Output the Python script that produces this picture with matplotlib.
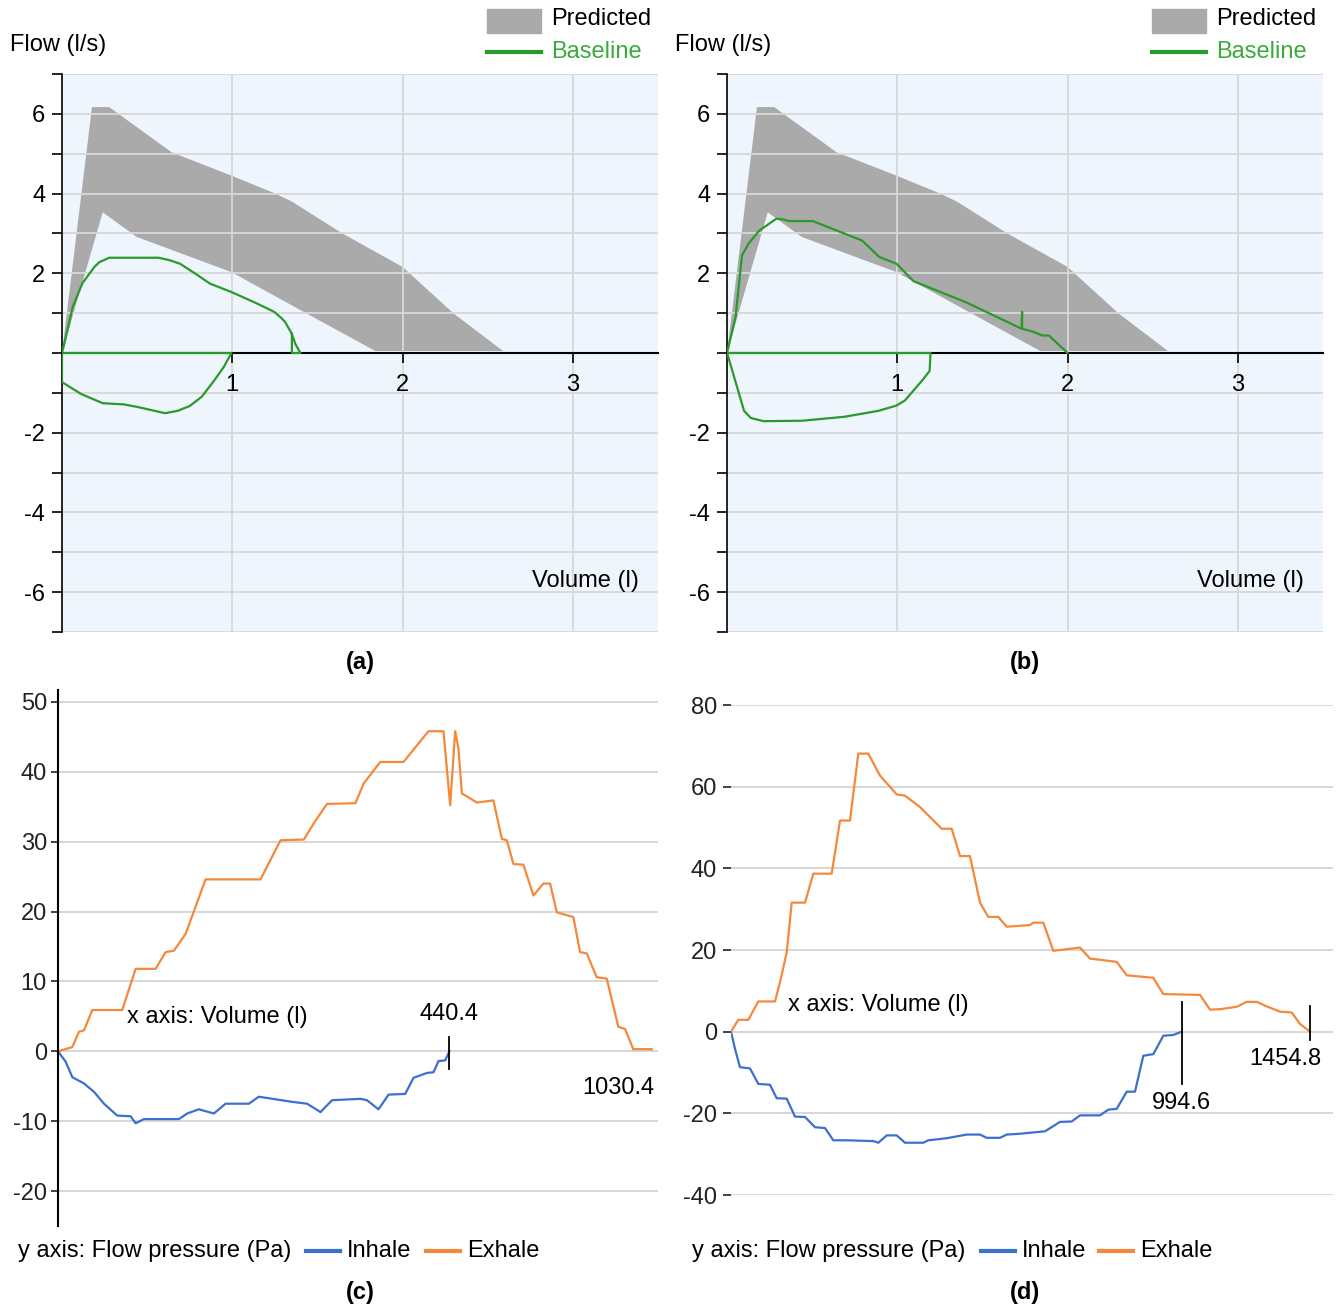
# flow-volume loops (a, b) and flow pressure traces (c, d)
import matplotlib.pyplot as plt
from matplotlib.lines import Line2D
from matplotlib.patches import Rectangle
from matplotlib.ticker import FuncFormatter

plt.rcParams.update({
    'font.family': ['Liberation Sans', 'DejaVu Sans'],
    'font.size': 17,
    'axes.unicode_minus': False,
})

W, H = 1339, 1309
GREEN = '#2a9a2a'
GREEN_TXT = '#3aaa3a'
GRAY = '#aaaaaa'
BLUE = '#3b6fd0'
ORANGE = '#f5883a'

# predicted band (same in a and b)
BAND_UP_X = [0, 0.176, 0.277, 0.642, 0.995, 1.247, 1.35, 1.65, 2.0, 2.3, 2.59]
BAND_UP_Y = [0, 6.17, 6.17, 5.04, 4.45, 4.01, 3.8, 2.99, 2.16, 0.99, 0.05]
BAND_LO_X = [0, 0.239, 0.44, 0.995, 1.42, 1.84]
BAND_LO_Y = [0, 3.53, 2.91, 2.03, 1.03, 0.05]

# baseline loop, panel a
A_EX_X = [0, 0.02, 0.063, 0.12, 0.19, 0.22, 0.277, 0.567, 0.63, 0.693, 0.78, 0.869,
          0.995, 1.146, 1.247, 1.29, 1.31, 1.35, 1.37, 1.40, 1.35, 1.35]
A_EX_Y = [0, 0.35, 1.16, 1.75, 2.16, 2.28, 2.39, 2.39, 2.33, 2.24, 2.0, 1.74,
          1.53, 1.24, 1.03, 0.87, 0.78, 0.48, 0.23, 0, 0, 0.48]
A_IN_X = [0, 0, 0.113, 0.239, 0.365, 0.45, 0.605, 0.68, 0.75, 0.82, 0.894, 0.95, 0.995, 0]
A_IN_Y = [0, -0.73, -1.03, -1.26, -1.29, -1.36, -1.51, -1.45, -1.33, -1.10, -0.69, -0.35, 0, 0]

# baseline loop, panel b
B_EX_X = [0, 0.05, 0.088, 0.126, 0.189, 0.29, 0.33, 0.365, 0.504, 0.794, 0.894, 0.995,
          1.096, 1.4, 1.73, 1.733, 1.733, 1.80, 1.85, 1.89, 2.0]
B_EX_Y = [0, 0.9, 2.45, 2.74, 3.07, 3.37, 3.35, 3.31, 3.31, 2.82, 2.41, 2.24,
          1.80, 1.28, 0.61, 1.03, 0.61, 0.53, 0.44, 0.44, 0.0]
B_IN_X = [0, 0.013, 0.1, 0.14, 0.214, 0.44, 0.69, 0.89, 0.995, 1.045, 1.146, 1.19, 1.195, 0]
B_IN_Y = [0, -0.18, -1.45, -1.63, -1.71, -1.70, -1.60, -1.45, -1.32, -1.19, -0.69, -0.45, 0, 0]

# panel c (x = position along the sample axis)
C_EX_X = [0, 14.3, 21, 26, 34.3, 64.3, 77.7, 97.7, 107.7, 116, 127.7, 147.7, 202.7, 222.7,
          246, 257.7, 269.3, 297.7, 305.8, 322.5, 345.8, 370.8, 385.8, 392.5, 397.5, 400.8,
          404.2, 419.2, 435.8, 444.2, 449.2, 455.8, 465.8, 475.8, 485.8, 492.5, 499.2, 515.8,
          522.5, 529.2, 539.2, 549.2, 560.8, 567.5, 575.8, 594.2]
C_EX_Y = [0, 0.6, 2.8, 3.0, 5.9, 5.9, 11.8, 11.8, 14.2, 14.4, 16.8, 24.6, 24.6, 30.2,
          30.3, 33.0, 35.4, 35.5, 38.3, 41.4, 41.4, 45.8, 45.8, 35.2, 45.8, 43.3,
          36.9, 35.6, 35.9, 30.4, 30.2, 26.8, 26.7, 22.3, 24.0, 24.0, 19.9, 19.2,
          14.2, 14.0, 10.6, 10.4, 3.5, 3.2, 0.3, 0.3]
C_IN_X = [0, 7.7, 14.3, 26, 36, 46, 59.3, 72.7, 77.7, 86, 121, 129.3, 141, 156, 167.7, 191,
          201, 232.7, 249.3, 262.7, 274.3, 302.7, 309.2, 320.8, 330.8, 347.5, 355.8, 369.2,
          375.8, 380.8, 387.5, 391.8]
C_IN_Y = [0, -1.5, -3.7, -4.6, -5.8, -7.5, -9.2, -9.3, -10.3, -9.7, -9.7, -8.9, -8.3, -8.9,
          -7.5, -7.5, -6.5, -7.2, -7.5, -8.7, -7.0, -6.8, -7.0, -8.3, -6.2, -6.1, -3.8, -3.1,
          -3.0, -1.4, -1.3, 0]

# panel d
D_EX_X = [0, 7.3, 17.3, 27.3, 44, 49, 55.7, 60.7, 74, 82.3, 100.7, 109, 119, 127.3, 137.3,
          149, 165.7, 174, 189, 210.7, 220.7, 229, 239, 249, 257.3, 267.3, 275.7, 299, 302.3,
          312.3, 322.3, 349, 359, 385.7, 395.7, 422.3, 432.3, 469, 479, 489, 505.7, 515.7,
          525.7, 535.7, 549, 560.7, 569, 579]
D_EX_Y = [0, 2.9, 2.9, 7.4, 7.4, 12.1, 19.4, 31.6, 31.6, 38.7, 38.7, 51.7, 51.7, 68.1, 68.1,
          62.7, 58.1, 57.8, 55.0, 49.7, 49.7, 43.0, 43.0, 31.6, 28.1, 28.1, 25.7, 26.1, 26.7,
          26.7, 19.8, 20.6, 17.9, 17.1, 13.8, 13.2, 9.2, 9.0, 5.4, 5.5, 6.1, 7.3,
          7.3, 6.2, 4.9, 4.7, 1.9, 0]
D_IN_X = [0, 4, 9, 19, 27.3, 39, 45.7, 55.7, 64, 74, 84, 94, 102.3, 115.7, 142.3, 147.3,
          155.7, 165.7, 174, 192.3, 197.3, 215.7, 235.7, 249, 255.7, 269, 275.7, 289, 314,
          329, 340.7, 349, 369, 377.3, 385.7, 395.7, 404, 412.3, 422.3, 432.3, 442.3, 450.7]
D_IN_Y = [0, -4.2, -8.7, -9.0, -12.8, -13.0, -16.3, -16.4, -20.8, -20.9, -23.4, -23.6, -26.6,
          -26.6, -26.8, -27.2, -25.4, -25.4, -27.2, -27.2, -26.6, -26.1, -25.2, -25.2, -26.0,
          -26.0, -25.2, -25.0, -24.4, -22.1, -22.0, -20.5, -20.5, -19.1, -18.9, -14.7, -14.7,
          -5.9, -5.5, -1.0, -0.8, 0]


def box(l, t, r, b):
    return [l / W, 1 - b / H, (r - l) / W, (b - t) / H]


def ftext(x, y, s, **kw):
    kw.setdefault('va', 'center')
    fig.text(x / W, 1 - y / H, s, **kw)


def fline(x0, x1, y, color, lw=3):
    fig.add_artist(Line2D([x0 / W, x1 / W], [1 - y / H, 1 - y / H], color=color, lw=lw,
                          transform=fig.transFigure))


fig = plt.figure(figsize=(W / 100, H / 100), dpi=100)


def flow_panel(l, r, ex_x, ex_y, in_x, in_y, x_title):
    ax = fig.add_axes(box(l, 74, r, 632))
    ax.set_facecolor('#eef5fc')
    ax.set_xlim(0, 3.5)
    ax.set_ylim(-7, 7)
    ax.fill(BAND_UP_X + BAND_LO_X[::-1], BAND_UP_Y + BAND_LO_Y[::-1], color=GRAY, lw=0, zorder=1)
    ax.plot(ex_x, ex_y, color=GREEN, lw=1.6, zorder=3)
    ax.plot(in_x, in_y, color=GREEN, lw=1.6, zorder=3)
    ax.set_yticks(range(-7, 8))
    ax.set_xticks([1, 2, 3])
    ax.yaxis.set_major_formatter(FuncFormatter(lambda v, p: str(int(v)) if v % 2 == 0 and v != 0 else ''))
    ax.grid(color='#d8d8d8', lw=1.3)
    for s in ['top', 'right']:
        ax.spines[s].set_visible(False)
    ax.spines['bottom'].set_position(('data', 0))
    ax.spines['bottom'].set_linewidth(1.5)
    ax.spines['left'].set_linewidth(1.2)
    ax.tick_params(axis='y', length=7, width=1.2, pad=5, labelsize=17)
    ax.tick_params(axis='x', length=7, width=1.2, pad=8, labelsize=17)
    ax.text(3.39, -5.73, x_title, ha='right', va='center', fontsize=17)
    return ax


flow_panel(62, 658, A_EX_X, A_EX_Y, A_IN_X, A_IN_Y, 'Volume (l)')
flow_panel(727, 1323, B_EX_X, B_EX_Y, B_IN_X, B_IN_Y, 'Volume (l)')

for x0 in [0, 665]:
    ftext(10 + x0, 45, 'Flow (l/s)', fontsize=17)
    fig.add_artist(Rectangle(((487 + x0) / W, 1 - 33 / H), 54 / W, 24 / H, color=GRAY,
                             transform=fig.transFigure))
    ftext(551 + x0, 19, 'Predicted', fontsize=17)
    fline(487 + x0, 541 + x0, 52, GREEN)
    ftext(551 + x0, 52, 'Baseline', fontsize=17, color=GREEN_TXT)

# panel c
axc = fig.add_axes(box(58, 690, 658, 1226))
axc.set_xlim(0, 600.5)
axc.set_ylim(-25, 51.7)
axc.plot(C_IN_X, C_IN_Y, color=BLUE, lw=1.6)
axc.plot(C_EX_X, C_EX_Y, color=ORANGE, lw=1.6)
axc.set_yticks(range(-20, 51, 10))
axc.set_xticks([])
axc.grid(axis='y', color='#d4d4d4', lw=1.3)
for s in ['top', 'right', 'bottom']:
    axc.spines[s].set_visible(False)
axc.spines['left'].set_linewidth(1.5)
axc.tick_params(axis='y', length=5, width=1.2, pad=3, labelsize=17, colors='#222222')
axc.plot([C_IN_X[-1]] * 2, [2.1, -2.6], color='black', lw=1.3)
axc.text(C_IN_X[-1], 5.4, '440.4', ha='center', va='center', fontsize=17)
axc.text(597, -5.3, '1030.4', ha='right', va='center', fontsize=17)
axc.text(69.5, 4.9, 'x axis: Volume (l)', ha='left', va='center', fontsize=17)

# panel d
axd = fig.add_axes(box(731, 705, 1333, 1195))
axd.set_xlim(0, 602)
axd.set_ylim(-40, 80)
axd.plot(D_IN_X, D_IN_Y, color=BLUE, lw=1.6)
axd.plot(D_EX_X, D_EX_Y, color=ORANGE, lw=1.6)
axd.set_yticks(range(-40, 81, 20))
axd.set_xticks([])
axd.grid(axis='y', color='#d4d4d4', lw=1.3)
for s in axd.spines.values():
    s.set_visible(False)
axd.tick_params(axis='y', length=6, width=1.2, pad=4, labelsize=17, colors='#222222')
axd.plot([D_IN_X[-1]] * 2, [7.2, -12.7], color='black', lw=1.3)
axd.plot([D_EX_X[-1]] * 2, [6.3, -2.0], color='black', lw=1.3)
axd.text(D_IN_X[-1], -17.5, '994.6', ha='center', va='center', fontsize=17)
axd.text(554, -6.7, '1454.8', ha='center', va='center', fontsize=17)
axd.text(57, 6.5, 'x axis: Volume (l)', ha='left', va='center', fontsize=17)

# bottom legends
for x0, x_in, x_ex in [(18, 306, 426), (692, 981, 1099)]:
    ftext(x0, 1251, 'y axis: Flow pressure (Pa)', fontsize=17)
    fline(x_in, x_in + 34, 1251, BLUE)
    ftext(x_in + 41, 1251, 'Inhale', fontsize=17)
    fline(x_ex, x_ex + 34, 1251, ORANGE)
    ftext(x_ex + 41, 1251, 'Exhale', fontsize=17)

for x, y, s in [(360, 662, '(a)'), (1025, 662, '(b)'), (360, 1293, '(c)'), (1025, 1293, '(d)')]:
    ftext(x, y, s, ha='center', fontsize=17, fontweight='bold')

fig.savefig('out.png', dpi=100)
